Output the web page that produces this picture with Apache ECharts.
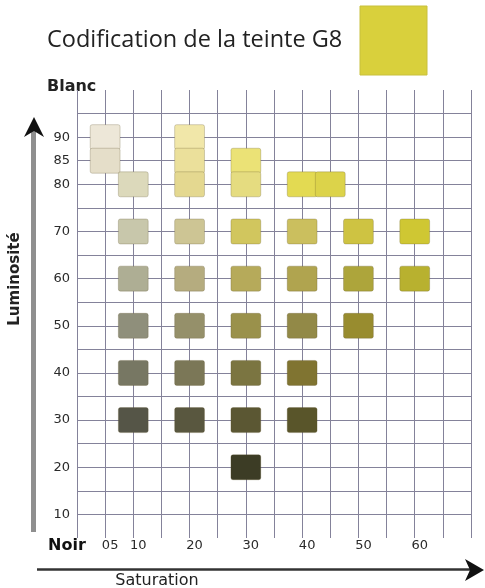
<!DOCTYPE html>
<html>
<head>
<meta charset="utf-8">
<script src="https://cdn.jsdelivr.net/npm/echarts@6/dist/echarts.min.js"></script>
<style>
  html, body { margin: 0; padding: 0; background: #fff; }
  #chart { width: 485px; height: 588px; }
</style>
</head>
<body>
<div id="chart"></div>
<script>
// swatches: saturation, luminosity, colour
const swatchSat = [5, 5, 10, 20, 20, 20, 30, 30, 40, 45,
    10, 20, 30, 40, 50, 60,
    10, 20, 30, 40, 50, 60,
    10, 20, 30, 40, 50,
    10, 20, 30, 40,
    10, 20, 30, 40,
    30];
const swatchLum = [90, 85, 80, 90, 85, 80, 85, 80, 80, 80,
    70, 70, 70, 70, 70, 70,
    60, 60, 60, 60, 60, 60,
    50, 50, 50, 50, 50,
    40, 40, 40, 40,
    30, 30, 30, 30,
    20];
const swatchColor = ['#ede7d8', '#e5dec9', '#dcd9bb', '#f1e7a9', '#ebe09b', '#e4d890', '#ebe276', '#e5dc80', '#e3da52', '#dcd34a',
    '#c8c7ab', '#cdc594', '#d1c65e', '#cbbf5e', '#cec342', '#cfc733',
    '#aeae94', '#b5ac7f', '#b6aa5a', '#b0a44f', '#ada53b', '#b8b12f',
    '#8f8f7b', '#95906a', '#9a914b', '#928947', '#988c2f',
    '#777763', '#7b7757', '#7b7541', '#807431',
    '#555547', '#59573f', '#5b5733', '#59552a',
    '#3c3c25'];

const xTicks = [5, 10, 20, 30, 40, 50, 60];
const yTicks = [10, 20, 30, 40, 50, 60, 70, 80, 85, 90];
const hueSample = '#d9d03c';

const half = 2.65;
const gridColor = '#84829a';

// hide split lines at 5 and 100 on the luminosity axis
const ySplitColors = [];
for (let v = 5; v <= 100; v += 5) {
    ySplitColors.push(v === 5 || v === 100 ? 'rgba(0,0,0,0)' : gridColor);
}

const chart = echarts.init(document.getElementById('chart'));

chart.setOption({
    animation: false,
    grid: { left: 77, right: 14, top: 90, bottom: 50 },
    xAxis: {
        type: 'value',
        min: 0,
        max: 70,
        interval: 5,
        axisLine: { show: false },
        axisTick: { show: false },
        splitLine: { show: true, lineStyle: { color: gridColor, width: 1 } },
        axisLabel: {
            showMinLabel: true,
            margin: 8,
            verticalAlign: 'middle',
            padding: [0, 0, 0, 10],
            color: '#2a2a2a',
            fontFamily: 'DejaVu Sans',
            fontSize: 13,
            formatter: (v) => {
                if (v === 0) return '{noir|Noir}';
                if (!xTicks.includes(v)) return '';
                return v < 10 ? '0' + v : String(v);
            },
            rich: {
                noir: {
                    fontFamily: 'DejaVu Sans',
                    fontSize: 16,
                    fontWeight: 'bold',
                    color: '#111',
                    padding: [0, 30, 0, 0]
                }
            }
        }
    },
    yAxis: {
        type: 'value',
        min: 5,
        max: 100,
        interval: 5,
        axisLine: { show: false },
        axisTick: { show: false },
        splitLine: { show: true, lineStyle: { color: ySplitColors, width: 1 } },
        axisLabel: {
            margin: 7,
            padding: [0, 0, 8, 0],
            color: '#2a2a2a',
            fontFamily: 'DejaVu Sans',
            fontSize: 13,
            formatter: (v) => (yTicks.includes(v) ? String(v) : '')
        }
    },
    series: [{
        type: 'custom',
        data: swatchSat.map((s, i) => ({
            value: [s, swatchLum[i]],
            itemStyle: { color: swatchColor[i] }
        })),
        renderItem: (params, api) => {
            const x = api.value(0);
            const y = api.value(1);
            const p0 = api.coord([x - half, y + half]);
            const p1 = api.coord([x + half, y - half]);
            return {
                type: 'rect',
                shape: { x: p0[0], y: p0[1], width: p1[0] - p0[0], height: p1[1] - p0[1], r: 2 },
                style: { fill: api.visual('color'), stroke: 'rgba(90,80,40,0.25)', lineWidth: 1 }
            };
        }
    }],
    graphic: [
        {
            type: 'text', left: 47, top: 28,
            style: { text: 'Codification de la teinte G8', font: '23.5px "Open Sans"', fill: '#222' }
        },
        {
            type: 'rect', shape: { x: 360, y: 6, width: 67, height: 69 },
            style: { fill: hueSample, stroke: '#c8c03c', lineWidth: 1 }
        },
        {
            type: 'text', x: 47, y: 87,
            style: { text: 'Blanc', font: 'bold 16px "DejaVu Sans"', fill: '#222', verticalAlign: 'middle' }
        },
        // luminosity arrow
        {
            type: 'rect', shape: { x: 31, y: 130, width: 5, height: 402 },
            style: { fill: '#8f8f8f' }
        },
        {
            type: 'polygon', shape: { points: [[34, 117], [44, 137], [34, 131], [24, 137]] },
            style: { fill: '#111' }
        },
        {
            type: 'text', x: 15, y: 279, rotation: Math.PI / 2,
            style: { text: 'Luminosité', font: 'bold 15px "DejaVu Sans"', fill: '#222', align: 'center', verticalAlign: 'middle' }
        },
        // saturation arrow
        {
            type: 'line', shape: { x1: 37, y1: 569.5, x2: 472, y2: 569.5 },
            style: { stroke: '#333', lineWidth: 2.5 }
        },
        {
            type: 'polygon', shape: { points: [[484, 570], [465, 559], [470, 570], [465, 581]] },
            style: { fill: '#111' }
        },
        {
            type: 'text', x: 157, y: 581,
            style: { text: 'Saturation', font: '16px "DejaVu Sans"', fill: '#222', align: 'center', verticalAlign: 'middle' }
        }
    ]
});
</script>
</body>
</html>
